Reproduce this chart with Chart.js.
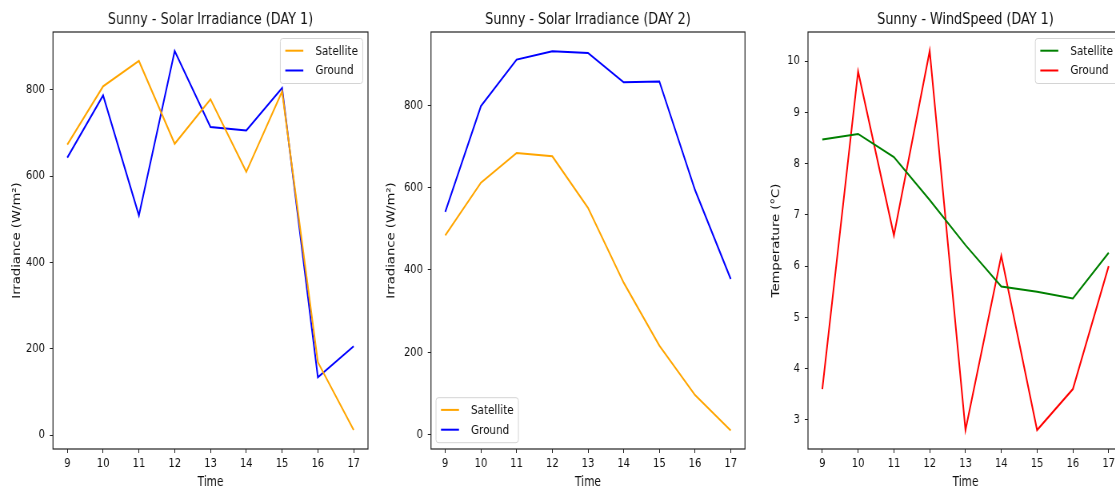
<!DOCTYPE html>
<html>
<head>
<meta charset="utf-8">
<script src="https://cdn.jsdelivr.net/npm/chart.js@4.4.1/dist/chart.umd.min.js"></script>
<style>
  html, body { margin: 0; padding: 0; background: #fff; overflow: hidden; width: 1115px; height: 489px; }
  #view { position: absolute; left: 0; top: 0; }
  /* panels are rendered here at full width, then copied narrower into #view */
  #work { position: absolute; left: -3000px; top: 0; width: 1420px; height: 489px; }
  #work canvas { position: absolute; top: 0; }
</style>
</head>
<body>
<canvas id="view" width="1115" height="489"></canvas>
<div id="work">
  <canvas id="c1" width="480" height="489" style="left:0px"></canvas>
  <canvas id="c2" width="470" height="489" style="left:480px"></canvas>
  <canvas id="c3" width="470" height="489" style="left:950px"></canvas>
</div>
<script>
// Hours of the day (x axis)
const hours = [9, 10, 11, 12, 13, 14, 15, 16, 17];

// Solar irradiance, day 1 (W/m²)
const day1Satellite = [673, 808, 867, 675, 778, 610, 796, 169, 12];
const day1Ground    = [643, 787, 509, 890, 714, 706, 804, 134, 206];

// Solar irradiance, day 2 (W/m²)
const day2Satellite = [484, 612, 684, 676, 551, 369, 216, 96, 10];
const day2Ground    = [541, 798, 911, 931, 927, 856, 858, 594, 378];

// Wind speed, day 1
const windSatellite = [8.47, 8.58, 8.13, 7.29, 6.41, 5.60, 5.50, 5.37, 6.26];
const windGround    = [3.6, 9.8, 6.6, 10.2, 2.8, 6.2, 2.8, 3.6, 6.0];

// Tick labels
const irradianceTicks = [0, 200, 400, 600, 800];
const windTicks = [3, 4, 5, 6, 7, 8, 9, 10];

// Panel titles and axis labels
const panelTitles = ['Sunny - Solar Irradiance (DAY 1)', 'Sunny - Solar Irradiance (DAY 2)', 'Sunny - WindSpeed (DAY 1)'];
const xLabel = 'Time';
const yLabels = ['Irradiance (W/m²)', 'Irradiance (W/m²)', 'Temperature (°C)'];
const seriesNames = ['Satellite', 'Ground'];

const FONT = "'DejaVu Sans', 'Noto Sans', sans-serif";
const SQUEEZE = 0.8;   // horizontal scale applied when composing the panels
Chart.defaults.font.family = FONT;

const view = document.getElementById('view');
const viewCtx = view.getContext('2d');
viewCtx.fillStyle = '#fff';
viewCtx.fillRect(0, 0, view.width, view.height);

// Box around the plotting area
const framePlugin = {
  id: 'axesFrame',
  afterDatasetsDraw(chart) {
    const { ctx, chartArea: a } = chart;
    ctx.save();
    ctx.strokeStyle = '#222';
    ctx.lineWidth = 1.2;
    ctx.strokeRect(a.left, a.top, a.right - a.left, a.bottom - a.top);
    ctx.restore();
  }
};

// Title centred over the plotting area
const titlePlugin = {
  id: 'panelTitle',
  afterDraw(chart, args, opts) {
    const { ctx, chartArea: a } = chart;
    ctx.save();
    ctx.fillStyle = '#111';
    ctx.font = '16px ' + FONT;
    ctx.textAlign = 'center';
    ctx.textBaseline = 'middle';
    ctx.fillText(opts.text, (a.left + a.right) / 2, 19.5);
    ctx.restore();
  }
};

// Framed legend placed inside the plotting area
const legendPlugin = {
  id: 'boxLegend',
  afterDraw(chart, args, opts) {
    const { ctx, chartArea: a } = chart;
    const w = 103, h = 45;
    const upperRight = opts.corner === 'upper right';
    const x = upperRight ? a.right - 6.6 - w : a.left + 6.25;
    const y = upperRight ? a.top + 6.5 : a.bottom - 6.3 - h;
    ctx.save();
    ctx.beginPath();
    ctx.roundRect(x, y, w, h, 3);
    ctx.fillStyle = 'rgba(255,255,255,0.8)';
    ctx.fill();
    ctx.strokeStyle = '#d4d4d4';
    ctx.lineWidth = 1;
    ctx.stroke();
    chart.data.datasets.forEach((ds, i) => {
      const cy = y + 12.2 + i * 19.8;
      ctx.strokeStyle = ds.borderColor;
      ctx.lineWidth = 2;
      ctx.beginPath();
      ctx.moveTo(x + 6.25, cy);
      ctx.lineTo(x + 28.75, cy);
      ctx.stroke();
      ctx.fillStyle = '#111';
      ctx.font = '13px ' + FONT;
      ctx.textBaseline = 'middle';
      ctx.fillText(ds.label, x + 43.75, cy + 0.5);
    });
    ctx.restore();
  }
};

// Copies a finished panel into the visible canvas, narrowed horizontally
const composePlugin = {
  id: 'compose',
  afterRender(chart, args, opts) {
    const src = chart.canvas;
    viewCtx.save();
    viewCtx.imageSmoothingEnabled = true;
    viewCtx.imageSmoothingQuality = 'high';
    const dx = opts.left * SQUEEZE;
    const dw = src.width * SQUEEZE;
    viewCtx.fillStyle = '#fff';
    viewCtx.fillRect(dx, 0, dw, src.height);
    viewCtx.drawImage(src, 0, 0, src.width, src.height, dx, 0, dw, src.height);
    viewCtx.restore();
  }
};

function buildPanel(id, cfg) {
  return new Chart(document.getElementById(id), {
    type: 'line',
    data: {
      datasets: cfg.series.map((s, k) => ({
        label: seriesNames[k],
        data: hours.map((h, i) => ({ x: h, y: s.values[i] })),
        borderColor: s.color,
        backgroundColor: s.color,
        borderWidth: 2,
        pointRadius: 0,
        tension: 0,
        fill: false
      }))
    },
    options: {
      responsive: false,
      animation: false,
      devicePixelRatio: 1,
      layout: { padding: { top: 32, right: cfg.padRight, bottom: 0, left: 0 } },
      plugins: {
        legend: { display: false },
        tooltip: { enabled: false },
        title: { display: false },
        panelTitle: { text: cfg.title },
        boxLegend: { corner: cfg.legendCorner },
        compose: { left: cfg.left }
      },
      scales: {
        x: {
          type: 'linear',
          min: 8.6,
          max: 17.4,
          afterFit: s => { s.height = 40; },
          afterBuildTicks: s => { s.ticks = hours.map(v => ({ value: v })); },
          grid: { drawOnChartArea: false, drawTicks: true, tickLength: 4, color: '#222', lineWidth: 1 },
          border: { display: false },
          ticks: { padding: 3, font: { size: 12.5 }, color: '#111', maxRotation: 0, autoSkip: false },
          title: { display: true, text: xLabel, color: '#111', font: { size: 13.2, lineHeight: 1 }, padding: { top: 0, bottom: 0 } }
        },
        y: {
          type: 'linear',
          min: cfg.yMin,
          max: cfg.yMax,
          afterFit: s => { s.width = cfg.yWidth; },
          afterBuildTicks: s => { s.ticks = cfg.yTicks.map(v => ({ value: v })); },
          grid: { drawOnChartArea: false, drawTicks: true, tickLength: 4, color: '#222', lineWidth: 1 },
          border: { display: false },
          ticks: { padding: 6, font: { size: 12.5 }, color: '#111' },
          title: { display: true, text: cfg.yLabel, color: '#111', font: { size: 13.2, lineHeight: 1 }, padding: { top: cfg.yTitlePad, bottom: 0 } }
        }
      }
    },
    plugins: [framePlugin, titlePlugin, legendPlugin, composePlugin]
  });
}

buildPanel('c1', {
  left: 0,
  title: panelTitles[0], yLabel: yLabels[0], yTicks: irradianceTicks,
  yMin: -32, yMax: 934, yWidth: 66.25, padRight: 20, yTitlePad: 14.6,
  legendCorner: 'upper right',
  series: [{ values: day1Satellite, color: '#FFA500' }, { values: day1Ground, color: '#0000FF' }]
});

buildPanel('c2', {
  left: 480,
  title: panelTitles[1], yLabel: yLabels[1], yTicks: irradianceTicks,
  yMin: -35, yMax: 978, yWidth: 58.75, padRight: 18.75, yTitlePad: 3.4,
  legendCorner: 'lower left',
  series: [{ values: day2Satellite, color: '#FFA500' }, { values: day2Ground, color: '#0000FF' }]
});

buildPanel('c3', {
  left: 950,
  title: panelTitles[2], yLabel: yLabels[2], yTicks: windTicks,
  yMin: 2.43, yMax: 10.57, yWidth: 60, padRight: 16.25, yTitlePad: 14.3,
  legendCorner: 'upper right',
  series: [{ values: windSatellite, color: '#008000' }, { values: windGround, color: '#FF0000' }]
});
</script>
</body>
</html>
